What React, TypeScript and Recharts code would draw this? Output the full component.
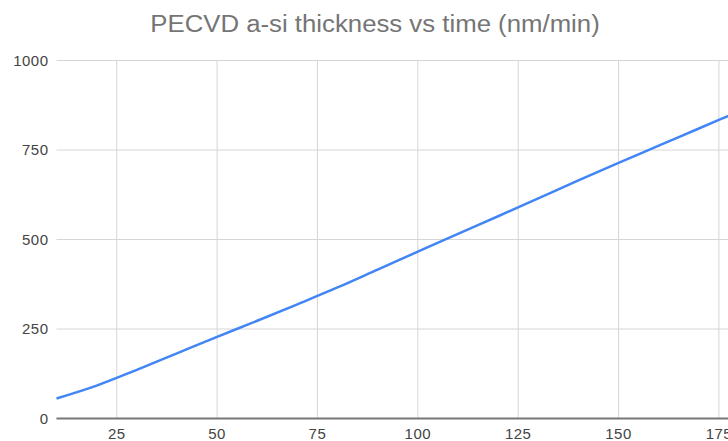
import { LineChart, Line, XAxis, YAxis, CartesianGrid, ReferenceLine } from "recharts";

// deposition time (min) and film thickness (nm)
const minutes = [10, 20, 30, 40, 50, 60, 70, 80, 90, 100, 110, 120, 130, 140, 150, 160, 170, 180];
const thickness = [56, 92, 136, 182, 228, 273, 319, 366, 416, 466, 516, 565, 615, 665, 714, 762, 810, 858];
const xTicks = [25, 50, 75, 100, 125, 150, 175];
const yTicks = [0, 250, 500, 750, 1000];

const data = minutes.map((t, i) => ({ t, nm: thickness[i] }));

const FONT = "'Liberation Sans', Arial, sans-serif";
const GRID = "#d6d6d6";

export default function App() {
  return (
    <div
      style={{
        position: "absolute",
        left: 0,
        top: 0,
        width: 728,
        height: 441,
        overflow: "hidden",
        background: "#fff",
        fontFamily: FONT,
      }}
    >
      <div style={{ position: "relative", width: 750, height: 441 }}>
        <div
          style={{
            position: "absolute",
            top: 10.5,
            left: 0,
            width: 750,
            textAlign: "center",
            fontSize: 23,
            color: "#757575",
            lineHeight: "26px",
            transform: "scaleX(1.12)",
          }}
        >
          PECVD a-si thickness vs time (nm/min)
        </div>
        <LineChart
          width={750}
          height={441}
          data={data}
          margin={{ top: 60.5, right: 11, bottom: 0, left: 0 }}
        >
          {/* horizontal grid only; vertical lines go at the labelled ticks */}
          <CartesianGrid stroke={GRID} vertical={false} />
          {xTicks.map((v) => (
            <ReferenceLine key={v} x={v} stroke={GRID} />
          ))}
          <XAxis
            dataKey="t"
            type="number"
            domain={[10, 180]}
            ticks={xTicks}
            tickLine={false}
            axisLine={{ stroke: "#777", strokeWidth: 2 }}
            tick={{ fill: "#444", fontSize: 15, fontFamily: FONT, letterSpacing: 0.5 }}
            tickMargin={4}
            height={22.5}
          />
          <YAxis
            type="number"
            domain={[0, 1000]}
            ticks={yTicks}
            tickLine={false}
            axisLine={false}
            tick={{ fill: "#444", fontSize: 15, fontFamily: FONT, letterSpacing: 0.5 }}
            width={56.5}
          />
          <Line
            type="monotone"
            dataKey="nm"
            stroke="#4285f4"
            strokeWidth={2.5}
            dot={false}
            isAnimationActive={false}
          />
        </LineChart>
      </div>
    </div>
  );
}
